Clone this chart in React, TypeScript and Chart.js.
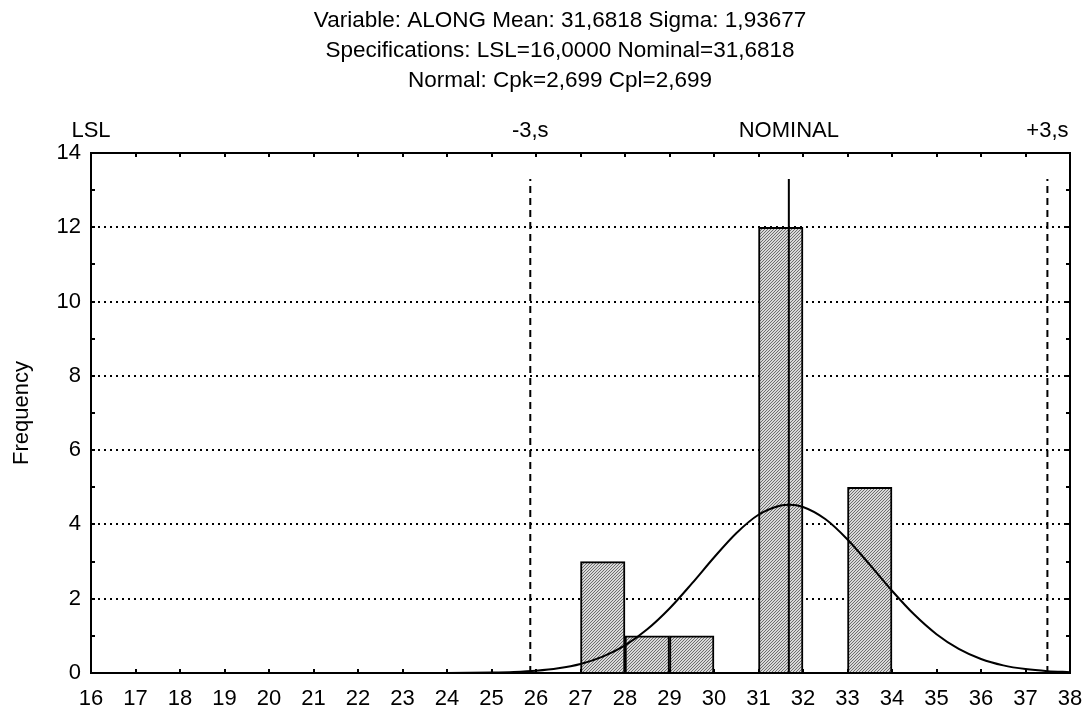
import React, { useEffect, useRef } from "react";
import { Chart, registerables } from "chart.js";

Chart.register(...registerables);

const titleLines = [
  "Variable: ALONG Mean: 31,6818 Sigma: 1,93677",
  "Specifications: LSL=16,0000 Nominal=31,6818",
  "Normal: Cpk=2,699 Cpl=2,699",
];

const binCenters = [27.5, 28.5, 29.5, 31.5, 33.5];
const binCounts = [3, 1, 1, 12, 5];

const curveX = [16, 24, 24.5, 25, 25.5, 26, 26.5, 27, 27.5, 28, 28.5, 29, 29.5, 30, 30.5, 31, 31.5, 31.7, 32, 32.5, 33, 33.5, 34, 34.5, 35, 35.5, 36, 36.5, 37, 37.5, 38];
const curveY = [0, 0.002, 0.005, 0.012, 0.028, 0.061, 0.127, 0.244, 0.441, 0.745, 1.177, 1.737, 2.405, 3.11, 3.763, 4.26, 4.51, 4.53, 4.47, 4.145, 3.595, 2.917, 2.215, 1.573, 1.045, 0.649, 0.377, 0.205, 0.105, 0.05, 0.022];

const specValues = [16, 25.8715, 31.6818, 37.4921];
const specLabels = ["LSL", "-3,s", "NOMINAL", "+3,s"];
const nominal = 31.6818;
const minus3s = 25.8715;
const plus3s = 37.4921;
const specLineTop = 13.3;

const xMin = 16;
const xMax = 38;
const yMin = 0;
const yMax = 14;

const FONT = "'Liberation Sans', Arial, sans-serif";

function makePattern(): CanvasPattern | string {
  const c = document.createElement("canvas");
  c.width = 3;
  c.height = 3;
  const g = c.getContext("2d");
  if (!g) return "#b5b5b5";
  g.fillStyle = "#d9d9d9";
  g.fillRect(0, 0, 3, 3);
  g.fillStyle = "#6e6e6e";
  for (let i = 0; i < 3; i++) g.fillRect(i, 2 - i, 1, 1);
  return g.createPattern(c, "repeat") || "#b5b5b5";
}

export default function App() {
  const ref = useRef<HTMLCanvasElement>(null);

  useEffect(() => {
    if (!ref.current) return;
    const pattern = makePattern();

    const framePlugin = {
      id: "frameTicks",
      afterDraw(chart: any) {
        const ctx = chart.ctx;
        const { left, right, top, bottom } = chart.chartArea;
        const xs = chart.scales.x;
        const ys = chart.scales.y;
        ctx.save();
        ctx.strokeStyle = "#000";
        ctx.lineWidth = 2;
        ctx.beginPath();
        for (let v = xMin + 1; v < xMax; v++) {
          const px = Math.round(xs.getPixelForValue(v));
          ctx.moveTo(px, top);
          ctx.lineTo(px, top + 4);
          ctx.moveTo(px, bottom);
          ctx.lineTo(px, bottom - 4);
        }
        for (let v = yMin + 1; v < yMax; v++) {
          const py = Math.round(ys.getPixelForValue(v));
          ctx.moveTo(left, py);
          ctx.lineTo(left + 4, py);
          ctx.moveTo(right, py);
          ctx.lineTo(right - 4, py);
        }
        ctx.stroke();
        ctx.fillStyle = "#000";
        ctx.font = `22.5px ${FONT}`;
        ctx.textAlign = "center";
        ctx.textBaseline = "middle";
        titleLines.forEach((t, i) => ctx.fillText(t, 552, 13 + i * 30));
        ctx.restore();
      },
    };

    const noSidePad = (s: any) => {
      s.paddingLeft = 0;
      s.paddingRight = 0;
    };

    const chart = new Chart(ref.current, {
      type: "bar",
      data: {
        datasets: [
          {
            type: "line",
            data: curveX.map((x, i) => ({ x, y: curveY[i] })),
            borderColor: "#000",
            borderWidth: 2,
            pointRadius: 0,
            cubicInterpolationMode: "monotone",
            fill: false,
            order: 1,
          } as any,
          {
            type: "line",
            data: [{ x: nominal, y: 0 }, { x: nominal, y: specLineTop }],
            borderColor: "#000",
            borderWidth: 2,
            pointRadius: 0,
            order: 0,
          } as any,
          {
            type: "line",
            data: [{ x: minus3s, y: 0 }, { x: minus3s, y: specLineTop }],
            borderColor: "#000",
            borderWidth: 2,
            borderDash: [7, 5],
            pointRadius: 0,
            order: 0,
          } as any,
          {
            type: "line",
            data: [{ x: plus3s, y: 0 }, { x: plus3s, y: specLineTop }],
            borderColor: "#000",
            borderWidth: 2,
            borderDash: [7, 5],
            pointRadius: 0,
            order: 0,
          } as any,
          {
            type: "bar",
            data: binCenters.map((x, i) => ({ x, y: binCounts[i] })),
            backgroundColor: pattern as any,
            borderColor: "#000",
            borderWidth: 2,
            barPercentage: 1,
            categoryPercentage: 1,
            order: 3,
          } as any,
        ],
      },
      options: {
        animation: false,
        responsive: true,
        maintainAspectRatio: false,
        events: [],
        layout: { padding: { left: 0, right: 17, top: 100, bottom: 0 } },
        plugins: {
          legend: { display: false },
          tooltip: { enabled: false },
          title: { display: false },
        },
        scales: {
          x: {
            type: "linear",
            position: "bottom",
            min: xMin,
            max: xMax,
            offset: false,
            grid: { display: false, offset: false, drawTicks: false },
            border: { display: true, color: "#000", width: 2 },
            ticks: {
              stepSize: 1,
              padding: 13,
              color: "#000",
              font: { family: FONT, size: 22 },
              maxRotation: 0,
              autoSkip: false,
            },
            afterFit: (s: any) => {
              s.height = 35;
              noSidePad(s);
            },
          },
          x2: {
            type: "linear",
            position: "top",
            min: xMin,
            max: xMax,
            offset: false,
            grid: { display: false, drawTicks: false },
            border: { display: true, color: "#000", width: 2 },
            afterBuildTicks: (axis: any) => {
              axis.ticks = specValues.map((v) => ({ value: v }));
            },
            ticks: {
              padding: 9,
              color: "#000",
              font: { family: FONT, size: 22 },
              maxRotation: 0,
              autoSkip: false,
              callback: (_v: any, i: number) => specLabels[i],
            },
            afterFit: (s: any) => {
              s.height = 45;
              noSidePad(s);
            },
          },
          y: {
            type: "linear",
            position: "left",
            min: yMin,
            max: yMax,
            grid: { display: true, color: "#000", lineWidth: 2, drawTicks: false },
            border: { display: true, color: "#000", width: 2, dash: [2, 4] },
            ticks: {
              stepSize: 2,
              padding: 10,
              color: "#000",
              font: { family: FONT, size: 22 },
            },
            title: {
              display: true,
              text: "Frequency",
              color: "#000",
              font: { family: FONT, size: 22 },
              padding: { top: 1, bottom: 0 },
            },
            afterFit: (s: any) => {
              s.width = 83;
            },
          },
          y2: {
            type: "linear",
            position: "right",
            min: yMin,
            max: yMax,
            grid: { display: false, drawTicks: false },
            border: { display: true, color: "#000", width: 2 },
            ticks: { display: false },
            afterFit: (s: any) => {
              s.width = 0;
            },
          },
        },
      },
      plugins: [framePlugin],
    });

    return () => chart.destroy();
  }, []);

  return (
    <div style={{ position: "absolute", left: 8, top: 8, width: 1079, height: 700 }}>
      <canvas ref={ref} />
    </div>
  );
}
